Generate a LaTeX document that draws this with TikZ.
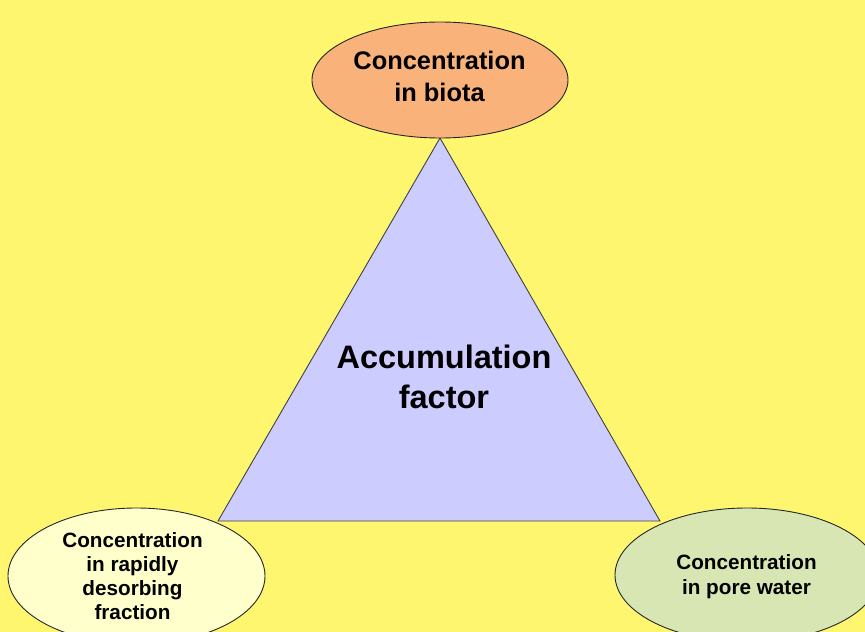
\documentclass[tikz,border=0pt]{standalone}
\usepackage{fontspec}
\setmainfont{Liberation Sans}
\usetikzlibrary{shapes.geometric}
\definecolor{bgyellow}{RGB}{255,246,112}
\definecolor{biota}{RGB}{248,178,122}
\definecolor{tri}{RGB}{204,204,255}
\definecolor{rapid}{RGB}{255,255,204}
\definecolor{pore}{RGB}{216,230,180}
\tikzset{
  conc/.style={ellipse, draw=black!85, line width=0.9pt, inner sep=0pt},
  lbl/.style={align=center, inner sep=0pt},
}
\begin{document}
\begin{tikzpicture}[x=1pt,y=-1pt]
\useasboundingbox (0,0) rectangle (865,632);
\fill[bgyellow] (0,0) rectangle (865,632);
\clip (0,0) rectangle (865,632);
\coordinate (apex) at (440,138);
\coordinate (bl) at (218,521);
\coordinate (br) at (660,521);
\draw[fill=tri, draw=black!75, line width=0.9pt, line join=miter] (apex) -- (br) -- (bl) -- cycle;
\node[lbl, font=\fontsize{32.5}{40}\selectfont\bfseries] (acc) at (444,377) {Accumulation\\factor};
\node[conc, fill=biota, minimum width=256pt, minimum height=116pt] (top) at (440,80) {};
\node[lbl, font=\fontsize{25.4}{32}\selectfont\bfseries] (toptxt) at (439.5,76) {Concentration\\in biota};
\node[conc, fill=rapid, minimum width=257pt, minimum height=136pt] (left) at (136.5,576) {};
\node[lbl, font=\fontsize{20.7}{24}\selectfont\bfseries] (lefttxt) at (132.5,576) {Concentration\\in rapidly\\desorbing\\fraction};
\node[conc, fill=pore, minimum width=264pt, minimum height=134pt] (right) at (747,575) {};
\node[lbl, font=\fontsize{20.7}{25}\selectfont\bfseries] (righttxt) at (746.5,577) {Concentration\\in pore water};
\end{tikzpicture}
\end{document}
